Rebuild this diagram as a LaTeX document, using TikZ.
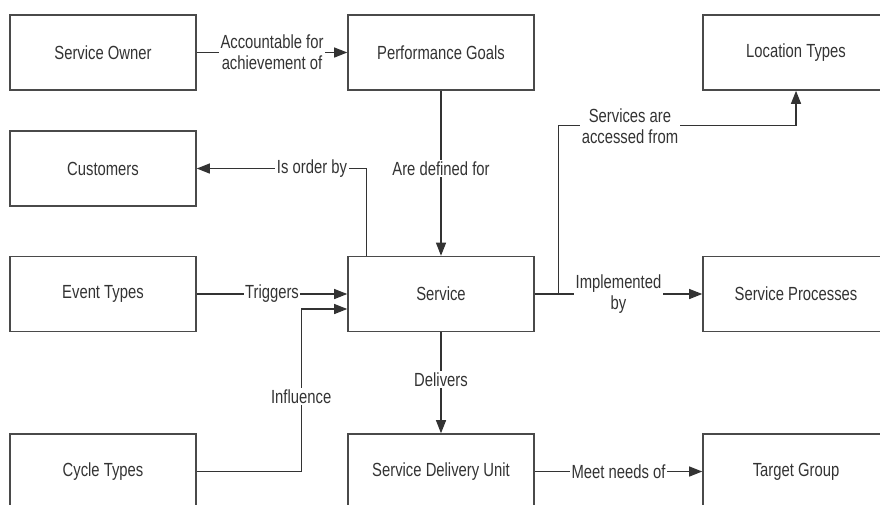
\documentclass[tikz,border=0pt]{standalone}
\usepackage{fontspec}
\setmainfont{Liberation Sans}[FakeStretch=0.78]
\usepackage{tikz}
\usetikzlibrary{shapes.geometric, arrows.meta}
\definecolor{boxline}{HTML}{4A4A4A}
\definecolor{inkgray}{HTML}{333333}
\newcommand{\lblfont}{\fontsize{19}{21}\selectfont}
\tikzstyle{entity} = [rectangle, minimum width=186pt, minimum height=75pt, text centered, draw=boxline, line width=1.6pt, text=inkgray, font=\lblfont]
\tikzstyle{rel} = [fill=white, inner sep=1.5pt, align=center, text=inkgray, font=\lblfont]
\tikzstyle{arrow} = [line width=1.2pt, draw=inkgray, -{Triangle[length=13pt,width=10pt]}]

\begin{document}
\begin{tikzpicture}[x=1pt, y=1pt, node distance=120pt]
    \useasboundingbox (0,0) rectangle (880,-504);

    \node (owner) [entity] at (103,-52.5) {Service Owner};
    \node (customers) [entity, below of=owner, yshift=4pt] {Customers};
    \node (events) [entity, below of=customers, yshift=-5.5pt] {Event Types};
    \node (cycles) [entity, below of=events, yshift=-57.5pt] {Cycle Types};

    \node (goals) [entity, right of=owner, xshift=218pt] {Performance Goals};
    \node (service) [entity, right of=events, xshift=218pt] {Service};
    \node (sdu) [entity, right of=cycles, xshift=218pt] {Service Delivery Unit};

    \node (locations) [entity, right of=goals, xshift=235pt] {Location Types};
    \node (processes) [entity, right of=service, xshift=235pt] {Service Processes};
    \node (target) [entity, right of=sdu, xshift=235pt] {Target Group};

    \draw [arrow] (owner) -- node[rel] {Accountable for\\achievement of} (goals);
    \draw [arrow] (goals) -- node[rel, pos=0.47] {Are defined for} (service);
    \draw [arrow] ([xshift=19pt]service.north west) |- node[rel, pos=0.66] {Is order by} (customers.east);
    \draw [arrow] (events) -- node[rel] {Triggers} (service);
    \draw [arrow] (cycles.east) -| node[rel, pos=0.73] {Influence} ([xshift=-46pt, yshift=-15pt]service.west) -- ([yshift=-15pt]service.west);

    \draw [arrow] (service.east) -- ++(24pt,0) |- node[rel, pos=0.65] {Services are\\accessed from} ([yshift=-35pt]locations.south) -- (locations.south);
    \draw [arrow] (service) -- node[rel] {Implemented\\by} (processes);

    \draw [arrow] (service) -- node[rel, pos=0.47] {Delivers} (sdu);
    \draw [arrow] (sdu) -- node[rel] {Meet needs of} (target);
\end{tikzpicture}
\end{document}
